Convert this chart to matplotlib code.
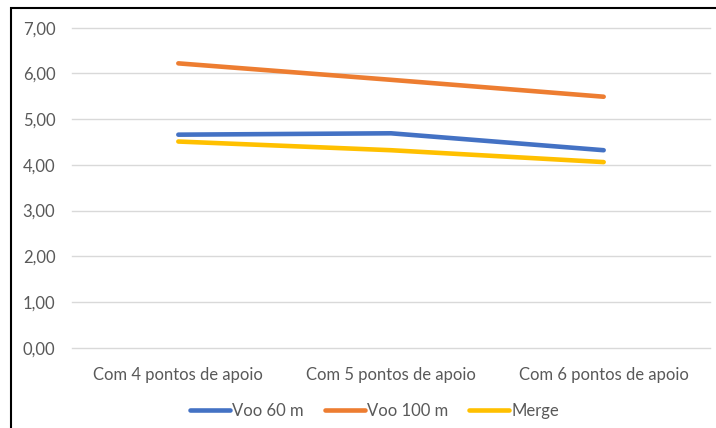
import numpy as np
import matplotlib.pyplot as plt
from matplotlib.patches import Rectangle

# Series values per support-point configuration
categorias = ['Com 4 pontos de apoio', 'Com 5 pontos de apoio', 'Com 6 pontos de apoio']
voo_60 = [4.66, 4.69, 4.32]
voo_100 = [6.22, 5.86, 5.49]
merge = [4.51, 4.32, 4.06]
y_ticks = [0, 1, 2, 3, 4, 5, 6, 7]

plt.rcParams['font.family'] = ['Lato', 'DejaVu Sans']

fig = plt.figure(figsize=(7.16, 4.28), dpi=100)
ax = fig.add_axes([72 / 716, 1 - 347.7 / 428, 638 / 716, 320 / 428])

x = np.arange(len(categorias))
ax.plot(x, voo_60, color='#4472C4', lw=3.3, label='Voo 60 m', solid_capstyle='round')
ax.plot(x, voo_100, color='#ED7D31', lw=3.3, label='Voo 100 m', solid_capstyle='round')
ax.plot(x, merge, color='#FFC000', lw=3.3, label='Merge', solid_capstyle='round')

ax.set_xlim(-0.5, 2.5)
ax.set_ylim(0, 7)
ax.set_yticks(y_ticks)
ax.set_yticklabels([f'{v:.2f}'.replace('.', ',') for v in y_ticks])
ax.set_xticks(x)
ax.set_xticklabels(categorias)
ax.tick_params(axis='both', length=0, labelsize=12, colors='#595959')
ax.tick_params(axis='y', pad=12)
ax.tick_params(axis='x', pad=14)
ax.grid(axis='y', color='#D9D9D9', lw=1)
for g in ax.get_ygridlines():
    g.set_clip_on(False)
ax.set_axisbelow(True)
for s in ax.spines.values():
    s.set_visible(False)

leg = ax.legend(loc='center', bbox_to_anchor=(0.474, (347.7 - 411) / 320),
                ncol=3, frameon=False, fontsize=12, handlelength=2.4,
                handletextpad=0.1, columnspacing=1.3)
for t in leg.get_texts():
    t.set_color('#595959')

# Outer chart frame
fig.patches.append(Rectangle((11 / 716, -0.1), 1.2, 1 - 8 / 428 + 0.1,
                             transform=fig.transFigure, fill=False,
                             edgecolor='black', lw=1.5))

fig.savefig('out.png', dpi=100)
